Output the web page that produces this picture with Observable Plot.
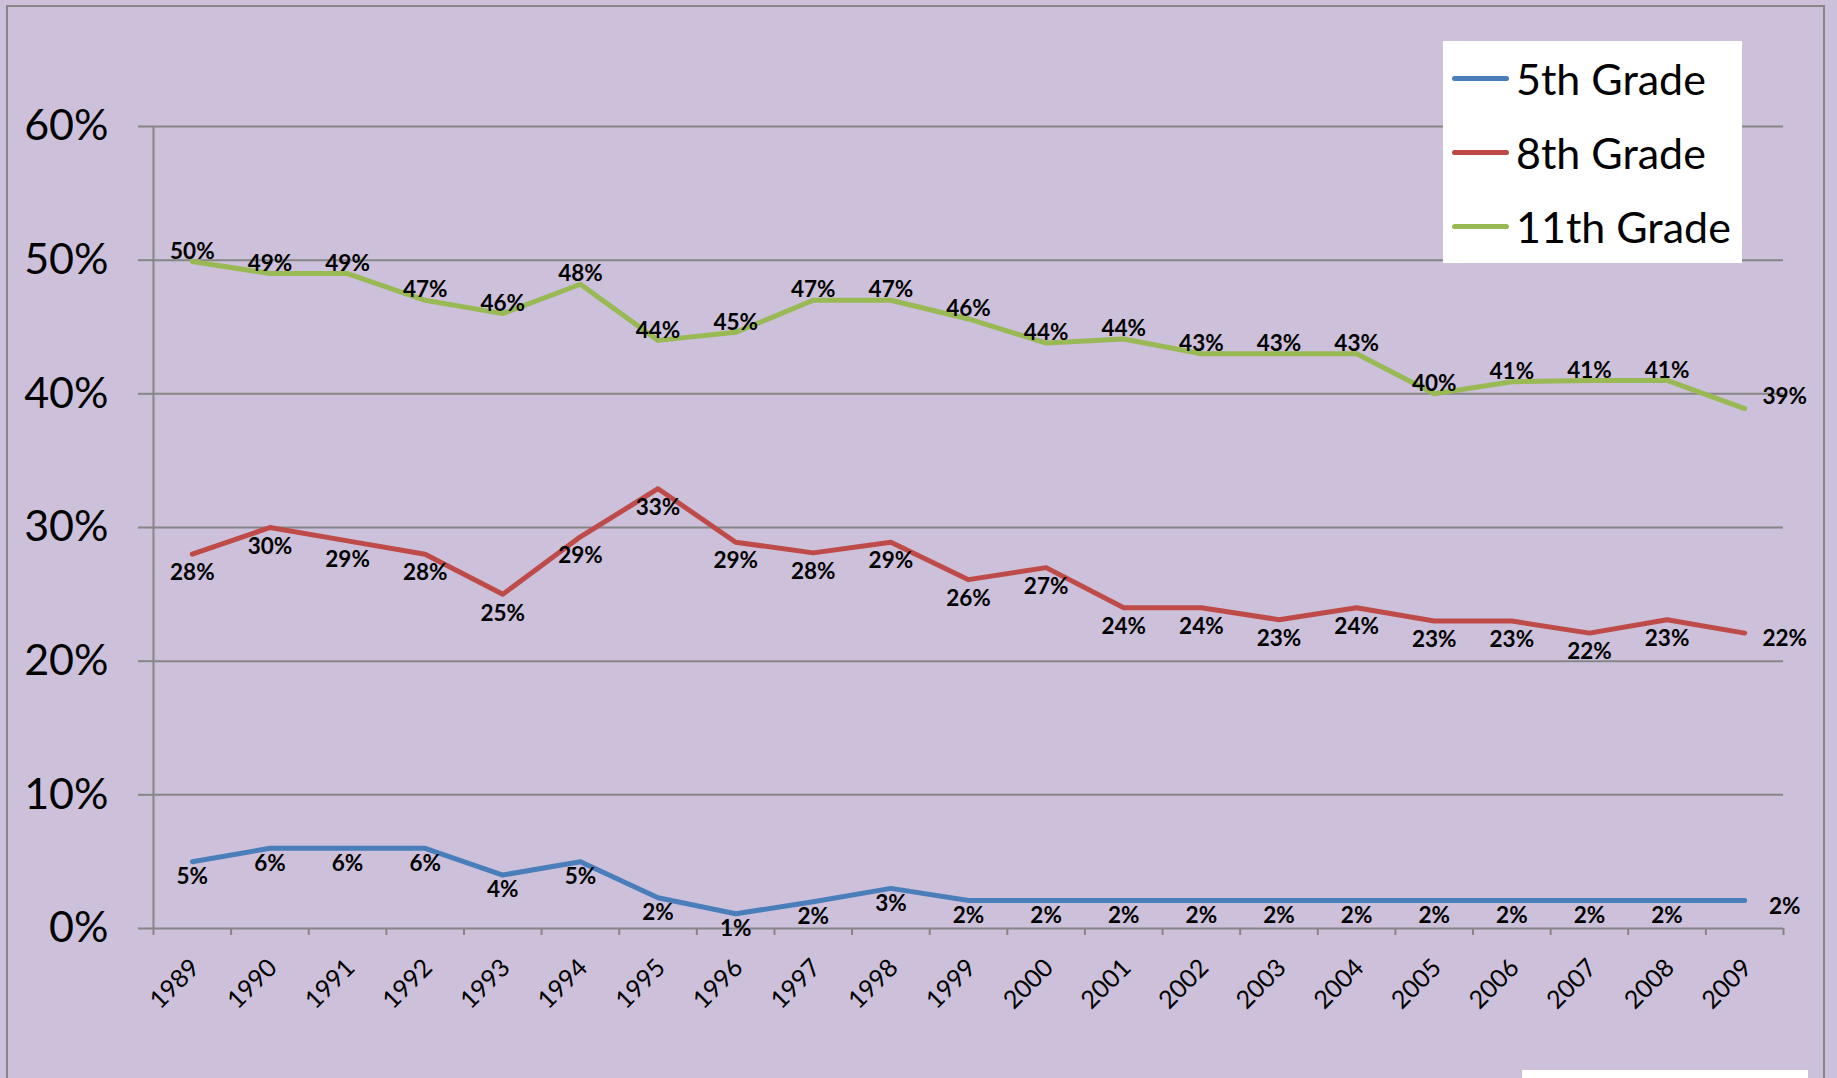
<!DOCTYPE html>
<html>
<head>
<meta charset="utf-8">
<script src="https://cdn.jsdelivr.net/npm/d3@7"></script>
<script src="https://cdn.jsdelivr.net/npm/@observablehq/plot@0.6"></script>
<style>
  html, body { margin: 0; padding: 0; background: #ccc0da; }
  #wrap { position: relative; width: 1837px; height: 1078px; overflow: hidden; background: #ccc0da; font-family: Lato, "Open Sans", sans-serif; }
  #wrap svg { position: absolute; left: 0; top: 0; }
  #frame { position: absolute; left: 6px; top: 5px; width: 1819px; height: 1100px; border: 2px solid #868686; box-sizing: border-box; pointer-events: none; }
  #legend { position: absolute; left: 1443px; top: 41px; width: 299px; height: 222px; background: #ffffff; }
  .item { position: absolute; left: 0; height: 60px; display: flex; align-items: center; }
  .swatch { width: 57px; height: 5px; border-radius: 3px; margin-left: 9px; margin-right: 7px; }
  .lab { font-size: 43px; color: #000; white-space: nowrap; line-height: 1; }
  #note { position: absolute; left: 1522px; top: 1070px; width: 286px; height: 20px; background: #ffffff; }
</style>
</head>
<body>
<div id="wrap">
  <div id="frame"></div>
  <div id="legend"></div>
  <div id="note"></div>
</div>
<script>
// ---- data ----
const years = [1989, 1990, 1991, 1992, 1993, 1994, 1995, 1996, 1997, 1998, 1999,
               2000, 2001, 2002, 2003, 2004, 2005, 2006, 2007, 2008, 2009];
const grade5  = [5, 6, 6, 6, 4, 5, 2.3, 1.1, 2, 3, 2.1, 2.1, 2.1, 2.1, 2.1, 2.1, 2.1, 2.1, 2.1, 2.1, 2.1];
const grade8  = [28, 30, 29, 28, 25, 29.3, 32.9, 28.9, 28.1, 28.9, 26.1, 27, 24, 24, 23.1, 24, 23, 23, 22.1, 23.1, 22.1];
const grade11 = [49.9, 49, 49, 47, 46, 48.2, 44, 44.6, 47, 47, 45.6, 43.8, 44.1, 43, 43, 43, 40, 40.9, 41, 41, 38.9];
const seriesNames = ["5th Grade", "8th Grade", "11th Grade"];
const seriesValues = [grade5, grade8, grade11];
const seriesColors = ["#4a7ebb", "#be4b48", "#98b954"];
const yTicks = [0, 10, 20, 30, 40, 50, 60];

// ---- build table ----
const rows = [];
seriesNames.forEach((s, i) => {
  seriesValues[i].forEach((v, j) => rows.push({series: s, year: years[j], value: v, last: j === years.length - 1}));
});
const bounds = years.map(y => y - 0.5).concat([years[years.length - 1] + 0.5]);

const gray = "#868686";
const labelDy = [15, 19, -10];
const lastDy = [6, 6, -12];

const labelMarks = [];
seriesNames.forEach((s, i) => {
  labelMarks.push(Plot.text(rows.filter(d => d.series === s && !d.last), {
    x: "year", y: "value", text: d => Math.round(d.value) + "%",
    dy: labelDy[i], fontSize: 22.5, fontWeight: "bold", fill: "#000"
  }));
  labelMarks.push(Plot.text(rows.filter(d => d.series === s && d.last), {
    x: "year", y: "value", text: d => Math.round(d.value) + "%",
    dx: 40, dy: lastDy[i], fontSize: 22.5, fontWeight: "bold", fill: "#000"
  }));
});

const chart = Plot.plot({
  width: 1837,
  height: 1078,
  marginLeft: 153,
  marginRight: 54,
  marginTop: 126,
  marginBottom: 150,
  style: {background: "transparent", fontFamily: "Lato, 'Open Sans', sans-serif", overflow: "visible"},
  x: {type: "linear", domain: [bounds[0], bounds[bounds.length - 1]], label: null},
  y: {domain: [0, 60], label: null},
  color: {domain: seriesNames, range: seriesColors},
  marks: [
    Plot.gridY({ticks: yTicks, stroke: gray, strokeWidth: 2, strokeOpacity: 1}),
    Plot.axisY({ticks: yTicks, tickSize: 15, tickPadding: 30, tickFormat: d => d + "%",
                fontSize: 43, stroke: gray, strokeWidth: 2, fill: "#000", label: null}),
    Plot.ruleX([bounds[0]], {stroke: gray, strokeWidth: 2}),
    Plot.axisX({ticks: bounds, tickSize: 7, tickFormat: () => "", stroke: gray, strokeWidth: 2, label: null}),
    Plot.axisX({ticks: years, tickSize: 0, tickPadding: 35, tickRotate: -45, tickFormat: d => String(d),
                fontSize: 25, fill: "#000", dx: 3, label: null}),
    Plot.lineY(rows, {x: "year", y: "value", z: "series", stroke: "series", strokeWidth: 5,
                      strokeLinecap: "round", strokeLinejoin: "round"}),
    ...labelMarks
  ]
});
document.getElementById("wrap").insertBefore(chart, document.getElementById("frame"));

// ---- legend ----
const legend = document.getElementById("legend");
seriesNames.forEach((s, i) => {
  const item = document.createElement("div");
  item.className = "item";
  item.style.top = (7 + i * 74) + "px";
  const sw = document.createElement("div");
  sw.className = "swatch";
  sw.style.background = seriesColors[i];
  const lab = document.createElement("span");
  lab.className = "lab";
  lab.textContent = s;
  item.appendChild(sw);
  item.appendChild(lab);
  legend.appendChild(item);
});
</script>
</body>
</html>
